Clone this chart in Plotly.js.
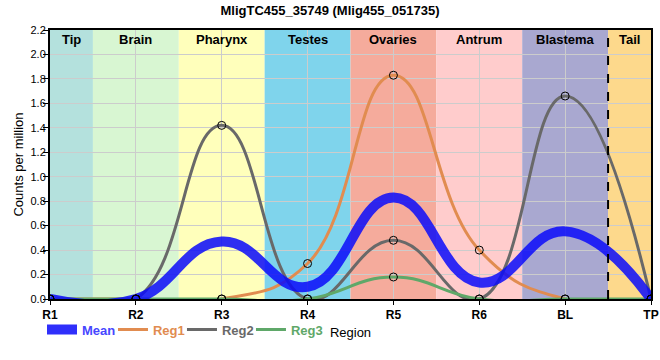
<!DOCTYPE html>
<html><head><meta charset="utf-8">
<script src="https://cdn.plot.ly/plotly-3.0.1.min.js"></script>
<style>body{margin:0;padding:0;}#chart{width:660px;height:360px;}</style>
</head><body><div id="chart"></div>
<script>
const categories = ['R1','R2','R3','R4','R5','R6','BL','TP'];
const meanVals = [0, 0, 0.47, 0.10, 0.83, 0.135, 0.553, 0];
const reg1Vals = [0, 0, 0, 0.29, 1.83, 0.40, 0, 0];
const reg2Vals = [0, 0, 1.42, 0, 0.48, 0, 1.66, 0];
const reg3Vals = [0, 0, 0, 0, 0.18, 0, 0, 0];
const regionNames = ['Tip','Brain','Pharynx','Testes','Ovaries','Antrum','Blastema','Tail'];
const regionStart = [0, 0.5, 1.5, 2.5, 3.5, 4.5, 5.5, 6.5];
const regionEnd = [0.5, 1.5, 2.5, 3.5, 4.5, 5.5, 6.5, 7];
const regionColors = ['#b4e1dd','#d8f6d2','#ffffbb','#7fd4ec','#f5ab9c','#ffcccc','#a9a8d0','#fdd98c'];
const yTicks = [0,0.2,0.4,0.6,0.8,1.0,1.2,1.4,1.6,1.8,2.0,2.2];

const xIdx = categories.map((c,i)=>i);
const SMOOTH = 1.3;
const markerStyle = {symbol:'circle', size:8, color:'rgba(0,0,0,0)', line:{color:'black', width:1}};
function regLine(name, vals, color, leg){
  return {x:xIdx, y:vals, type:'scatter', mode:'lines', name:'<b><span style="color:'+color+'">'+name+'</span></b>',
    line:{shape:'spline', smoothing:SMOOTH, color:color, width:3}, legend:leg};
}
function regMarkers(vals){
  return {x:xIdx, y:vals, type:'scatter', mode:'markers', showlegend:false, marker:markerStyle, hoverinfo:'skip'};
}
const data = [
  regLine('Reg1', reg1Vals, 'rgb(225,140,80)', 'legend2'),
  regLine('Reg2', reg2Vals, 'rgb(105,105,105)', 'legend3'),
  regLine('Reg3', reg3Vals, 'rgb(95,168,105)', 'legend4'),
  {x:xIdx, y:meanVals, type:'scatter', mode:'lines', name:'<b><span style="color:rgb(70,70,255)">Mean</span></b>',
   line:{shape:'spline', smoothing:SMOOTH, color:'rgba(10,10,250,0.85)', width:10}, legend:'legend'},
  regMarkers(reg1Vals), regMarkers(reg2Vals), regMarkers(reg3Vals)
];
const shapes = regionNames.map((n,i)=>({type:'rect', xref:'x', yref:'paper', x0:regionStart[i], x1:regionEnd[i], y0:0, y1:1,
  fillcolor:regionColors[i], line:{width:0}, layer:'below'}));
shapes.push({type:'line', xref:'x', yref:'paper', x0:6.5, x1:6.5, y0:0, y1:1, line:{color:'black', width:2, dash:'dash'}});
const annotations = regionNames.map((n,i)=>({text:'<b>'+n+'</b>', xref:'x', yref:'paper', x:(regionStart[i]+regionEnd[i])/2, y:1,
  yanchor:'top', yshift:0, showarrow:false, font:{family:'Arial, Liberation Sans', size:13, color:'black'}}));
function legendAt(x){
  return {orientation:'h', x:x, xanchor:'left', y:-0.058, yanchor:'top', bgcolor:'rgba(0,0,0,0)',
    font:{family:'Arial, Liberation Sans', size:13}, itemwidth:30};
}
const layout = {
  width:660, height:360,
  margin:{l:50, r:9, t:30, b:61},
  paper_bgcolor:'white', plot_bgcolor:'white',
  title:{text:'<b>MligTC455_35749 (Mlig455_051735)</b>', x:0.5, xref:'container', y:0.985, yanchor:'top',
    font:{family:'Arial, Liberation Sans', size:13, color:'black'}},
  xaxis:{range:[0,7], tickvals:xIdx, ticktext:categories.map(c=>'<b>'+c+'</b>'),
    showline:true, linecolor:'black', linewidth:2, mirror:true, showgrid:true, gridcolor:'#cccccc', gridwidth:1,
    ticks:'outside', ticklen:4, tickcolor:'black', zeroline:false,
    tickfont:{family:'Arial, Liberation Sans', size:12, color:'black'},
    title:{text:'Region', font:{family:'Arial, Liberation Sans', size:13, color:'black'}, standoff:6}},
  yaxis:{range:[0,2.2], tickvals:yTicks, tickformat:'.1f',
    showline:true, linecolor:'black', linewidth:2, mirror:true, showgrid:true, gridcolor:'#cccccc', gridwidth:1,
    ticks:'outside', ticklen:5, tickcolor:'black', zeroline:false, ticklabelstandoff:-5,
    tickfont:{family:'Arial, Liberation Sans', size:11, color:'black'},
    title:{text:'Counts per million', font:{family:'Arial, Liberation Sans', size:13, color:'black'}, standoff:4}},
  showlegend:true,
  legend:legendAt(-0.0133),
  legend2:legendAt(0.1048),
  legend3:legendAt(0.2196),
  legend4:legendAt(0.3344),
  shapes:shapes, annotations:annotations
};
Plotly.newPlot('chart', data, layout, {displayModeBar:false, staticPlot:true});
</script></body></html>
